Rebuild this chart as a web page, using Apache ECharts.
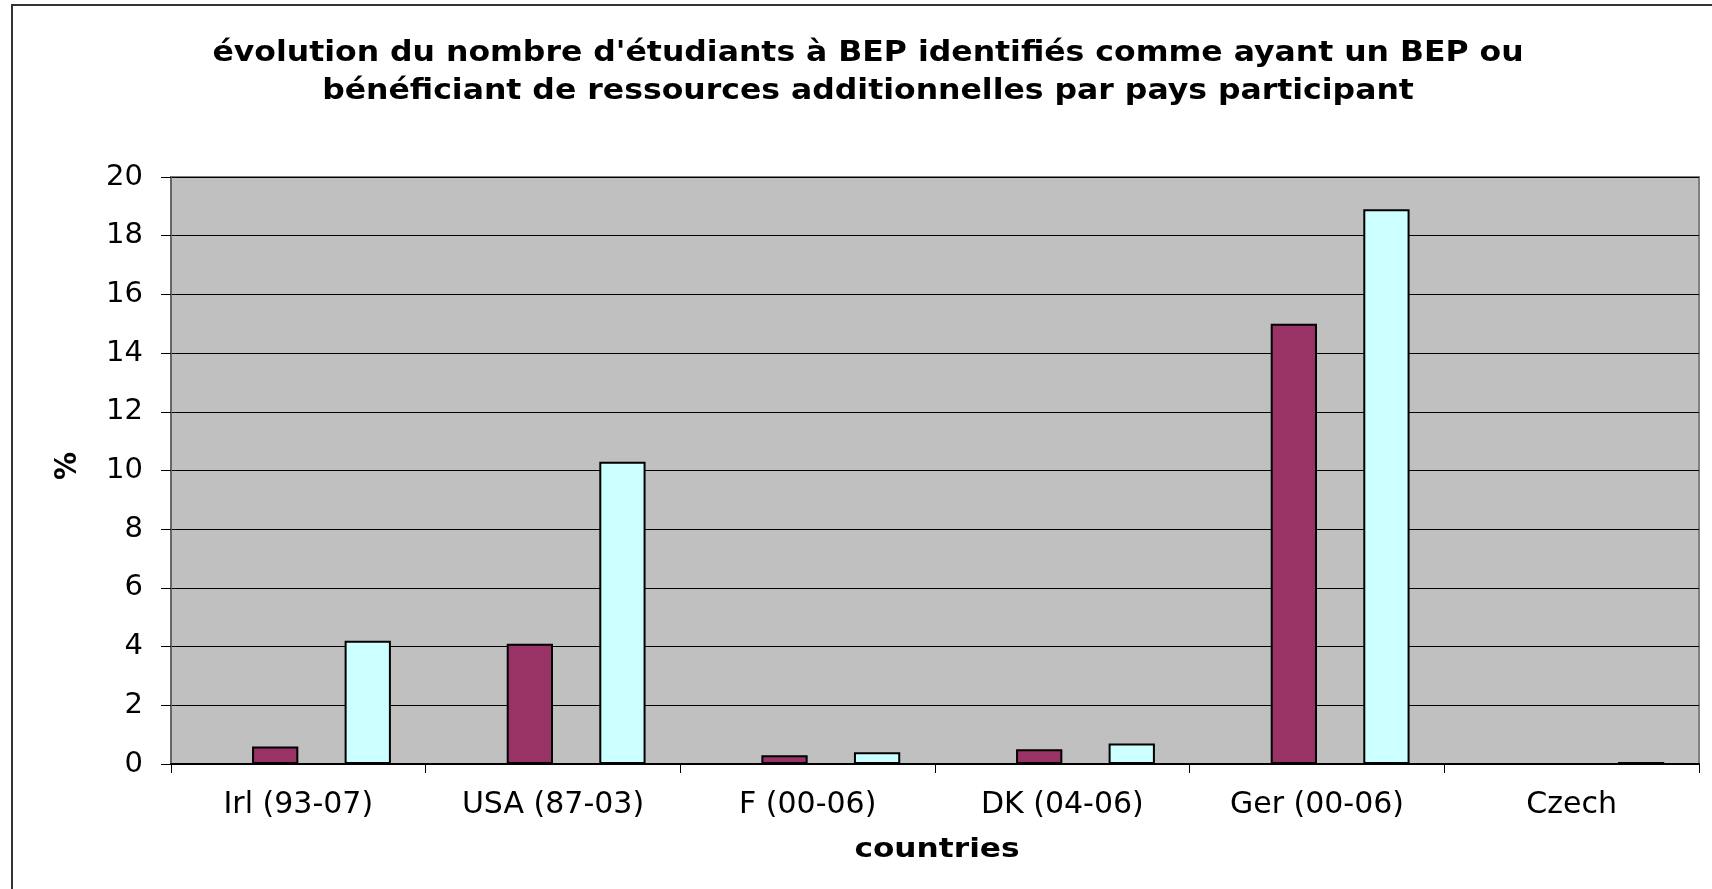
<!DOCTYPE html>
<html>
<head>
<meta charset="utf-8">
<script src="https://cdn.jsdelivr.net/npm/echarts@6/dist/echarts.min.js"></script>
<style>
html, body { margin: 0; padding: 0; background: #ffffff; }
#chart { width: 1712px; height: 889px; }
</style>
</head>
<body>
<div id="chart"></div>
<script>
// ---- data ----
var titleLine1 = "évolution du nombre d'étudiants à BEP identifiés comme ayant un BEP ou";
var titleLine2 = "bénéficiant de ressources additionnelles par pays participant";
var xAxisTitle = "countries";
var yAxisTitle = "%";
var categories = ["Irl (93-07)", "USA (87-03)", "F (00-06)", "DK (04-06)", "Ger (00-06)", "Czech"];
// two empty slots occupy bar positions in the original layout
var emptySlotA = [null, null, null, null, null, null];
var seriesRed  = [0.6, 4.1, 0.3, 0.5, 15.0, null];
var emptySlotB = [null, null, null, null, null, null];
var seriesCyan = [4.2, 10.3, 0.4, 0.7, 18.9, 0.07];
var yMin = 0, yMax = 20, yStep = 2;

var chart = echarts.init(document.getElementById('chart'));

function barSeries(name, data, color) {
  return {
    name: name,
    type: 'bar',
    data: data,
    barGap: '0%',
    barCategoryGap: '27.3%',
    itemStyle: { color: color, borderColor: '#000000', borderWidth: 2 },
    emphasis: { disabled: true },
    animation: false
  };
}

var option = {
  animation: false,
  backgroundColor: '#ffffff',
  grid: {
    left: 171, top: 177, width: 1528, height: 587,
    show: true,
    backgroundColor: '#C0C0C0',
    borderColor: '#808080',
    borderWidth: 2
  },
  xAxis: {
    type: 'category',
    data: categories,
    boundaryGap: true,
    axisLine: { show: true, lineStyle: { color: '#000000', width: 2 } },
    axisTick: { show: true, length: 9, lineStyle: { color: '#000000', width: 1 } },
    axisLabel: {
      margin: 26,
      fontFamily: 'DejaVu Sans',
      fontSize: 30,
      color: '#000000'
    },
    splitLine: { show: false }
  },
  yAxis: {
    type: 'value',
    min: yMin, max: yMax, interval: yStep,
    axisLine: { show: true, lineStyle: { color: '#666666', width: 2 } },
    axisTick: { show: true, length: 10, lineStyle: { color: '#000000', width: 1 } },
    axisLabel: {
      margin: 28,
      fontFamily: 'DejaVu Sans',
      fontSize: 29,
      color: '#000000'
    },
    splitLine: { show: true, lineStyle: { color: '#000000', width: 1 } }
  },
  series: [
    barSeries('slot A', emptySlotA, '#993366'),
    barSeries('series 1', seriesRed, '#993366'),
    barSeries('slot B', emptySlotB, '#CCFFFF'),
    barSeries('series 2', seriesCyan, '#CCFFFF')
  ],
  graphic: [
    {
      type: 'rect', silent: true, z: -10,
      shape: { x: 12, y: 5, width: 1800, height: 1000 },
      style: { fill: 'none', stroke: '#333333', lineWidth: 2 }
    },
    {
      type: 'text', x: 868, y: 54, scaleX: 1.125,
      style: {
        text: titleLine1, align: 'center', verticalAlign: 'middle',
        fontFamily: 'DejaVu Sans', fontWeight: 'bold', fontSize: 28, fill: '#000000'
      }
    },
    {
      type: 'text', x: 868, y: 92, scaleX: 1.125,
      style: {
        text: titleLine2, align: 'center', verticalAlign: 'middle',
        fontFamily: 'DejaVu Sans', fontWeight: 'bold', fontSize: 28, fill: '#000000'
      }
    },
    {
      type: 'text', x: 937, y: 850, scaleX: 1.156,
      style: {
        text: xAxisTitle, align: 'center', verticalAlign: 'middle',
        fontFamily: 'DejaVu Sans', fontWeight: 'bold', fontSize: 27, fill: '#000000'
      }
    },
    {
      type: 'text', x: 68, y: 466, rotation: Math.PI / 2, scaleY: 1.1,
      style: {
        text: yAxisTitle, align: 'center', verticalAlign: 'middle',
        fontFamily: 'DejaVu Sans', fontWeight: 'bold', fontSize: 28, fill: '#000000'
      }
    }
  ]
};
chart.setOption(option);
</script>
</body>
</html>
